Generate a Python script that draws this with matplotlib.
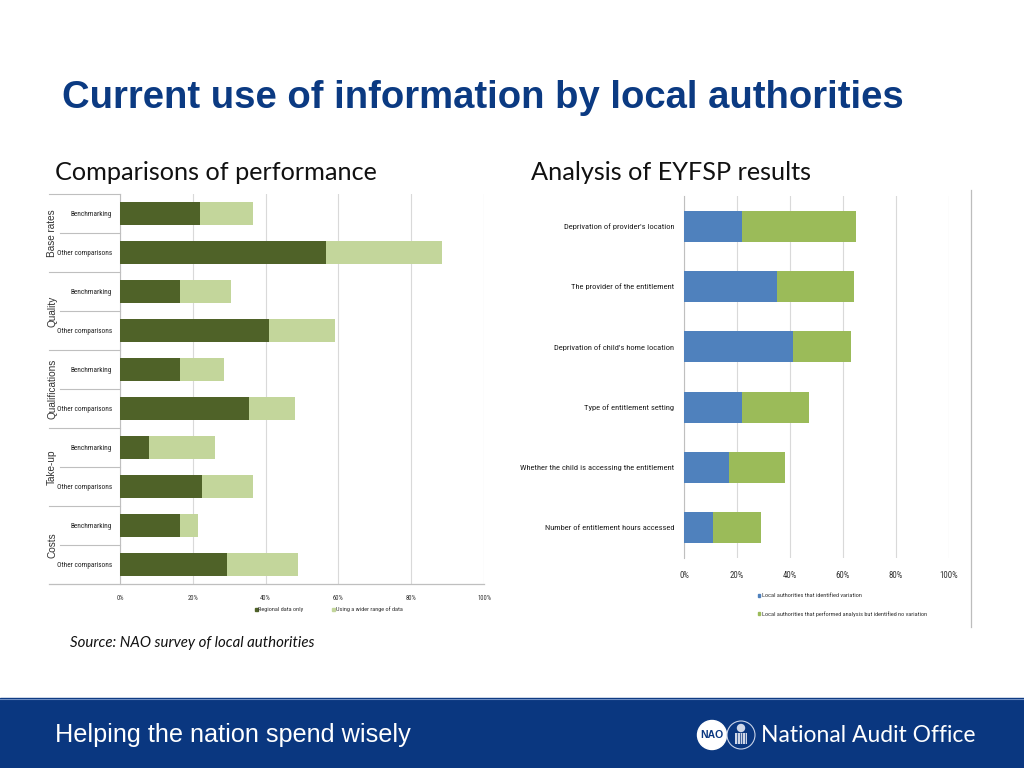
import matplotlib
matplotlib.use("Agg")
import matplotlib.pyplot as plt
from matplotlib import font_manager as fm
from matplotlib.patches import Rectangle, Circle
import numpy as np

# ---------------- data ----------------
left_groups = ["Base rates", "Quality", "Qualifications", "Take-up", "Costs"]
left_categories = ["Benchmarking", "Other comparisons"] * 5
regional_only = [22, 56.5, 16.5, 41, 16.5, 35.5, 8, 22.5, 16.5, 29.5]
wider_range = [14.5, 32, 14, 18, 12, 12.5, 18, 14, 5, 19.5]
left_series = ["Regional data only", "Using a wider range of data"]

right_categories = ["Deprivation of provider's location",
                    "The provider of the entitlement",
                    "Deprivation of child's home location",
                    "Type of entitlement setting",
                    "Whether the child is accessing the entitlement",
                    "Number of entitlement hours accessed"]
identified_variation = [22, 35, 41, 22, 17, 11]
no_variation = [43, 29, 22, 25, 21, 18]
right_series = ["Local authorities that identified variation",
                "Local authorities that performed analysis but identified no variation"]

x_ticks = [0, 20, 40, 60, 80, 100]
x_ticklabels = ["0%", "20%", "40%", "60%", "80%", "100%"]

# ---------------- fonts ----------------
def pick(names):
    for n in names:
        try:
            fm.findfont(fm.FontProperties(family=n), fallback_to_default=False)
            return n
        except Exception:
            pass
    return "DejaVu Sans"

NARROW = pick(["Liberation Sans Narrow", "Roboto Condensed", "Liberation Sans"])
ARIAL = pick(["Liberation Sans", "Arial", "DejaVu Sans"])
CALIBRI = pick(["Lato", "Open Sans", "DejaVu Sans"])

DARK = "#4F6228"
LIGHT = "#C3D69B"
BLUE = "#4F81BD"
GREEN = "#9BBB59"
GRID = "#D9D9D9"
AXIS = "#BFBFBF"
NAVY = "#0B3A82"
BAND = "#0A3780"

W, H = 1024, 768
fig = plt.figure(figsize=(W / 100, H / 100), dpi=100)

# background overlay axes in pixel coordinates
bg = fig.add_axes([0, 0, 1, 1], zorder=0)
bg.set_xlim(0, W)
bg.set_ylim(H, 0)
bg.axis("off")

def px_axes(l, t, r, b, **kw):
    return fig.add_axes([l / W, 1 - b / H, (r - l) / W, (b - t) / H], **kw)

# title & subtitles
bg.text(62, 98, "Current use of information by local authorities", fontsize=27.5,
        fontweight="bold", color=NAVY, family=ARIAL, va="center", ha="left")
bg.text(55, 172, "Comparisons of performance", fontsize=18.2, color="#111111",
        family=CALIBRI, va="center", ha="left")
bg.text(531, 172, "Analysis of EYFSP results", fontsize=18.2, color="#111111",
        family=CALIBRI, va="center", ha="left")
bg.text(70, 643, "Source: NAO survey of local authorities", fontsize=10.8,
        style="italic", color="#111111", family=CALIBRI, va="center", ha="left")

# footer band
bg.add_patch(Rectangle((0, 698), W, 70, color=BAND, zorder=1))
bg.plot([0, W], [698.5, 698.5], color="#6F8FC4", lw=0.8, zorder=2)
bg.text(55, 735, "Helping the nation spend wisely", fontsize=18.2, color="white",
        family=ARIAL, va="center", ha="left", zorder=3)
bg.add_patch(Circle((712, 735), 14.5, color="white", zorder=3))
bg.text(712, 735, "NAO", fontsize=7.5, fontweight="bold", color=BAND, family=ARIAL,
        ha="center", va="center", zorder=4)
bg.add_patch(Circle((741, 735), 14, facecolor=BAND, edgecolor="#C8D3E8", lw=0.8, zorder=3))
bg.add_patch(Rectangle((735, 733), 12, 11, facecolor="#D0D8E8", edgecolor="none", zorder=4))
for xx in np.arange(737, 747, 2.5):
    bg.plot([xx, xx], [733, 744], color=BAND, lw=0.5, zorder=5)
bg.add_patch(Circle((741, 728), 3.5, color="#D0D8E8", zorder=4))
bg.text(761, 735, "National Audit Office", fontsize=16.5, color="white",
        family=CALIBRI, va="center", ha="left", zorder=3)

# right image border line
bg.plot([971, 971], [190, 627], color="#BDBDBD", lw=0.9)

# ---------------- left chart ----------------
axl = px_axes(120, 194, 484, 584, zorder=2)
axl.set_facecolor("none")
yl = np.arange(len(left_categories))
axl.barh(yl, regional_only, height=0.59, color=DARK, zorder=3)
axl.barh(yl, wider_range, left=regional_only, height=0.59, color=LIGHT, zorder=3)
axl.set_xlim(0, 100)
axl.set_ylim(len(left_categories) - 0.5, -0.5)
axl.set_xticks(x_ticks)
axl.set_xticklabels(x_ticklabels, fontsize=4.8, family=NARROW, color="#333333")
axl.set_yticks(yl)
axl.set_yticklabels(left_categories, fontsize=5.2, family=NARROW, color="#222222")
axl.tick_params(axis="both", length=0)
axl.tick_params(axis="x", pad=8)
axl.tick_params(axis="y", pad=6)
for s in ["top", "right", "bottom"]:
    axl.spines[s].set_visible(False)
axl.spines["left"].set_color(AXIS)
axl.spines["left"].set_linewidth(0.8)
axl.xaxis.grid(True, color=GRID, lw=0.8)
axl.set_axisbelow(True)

tr = axl.get_yaxis_transform()
x_outer = (49 - 120) / 364
x_inner = (60 - 120) / 364
for gi in range(len(left_groups)):
    top = 2 * gi - 0.5
    axl.plot([x_outer, 0], [top, top], transform=tr, color=AXIS, lw=0.8, clip_on=False)
    axl.plot([x_inner, 0], [top + 1, top + 1], transform=tr, color=AXIS, lw=0.8, clip_on=False)
    axl.text((52 - 120) / 364, top + 1, left_groups[gi], transform=tr, rotation=90,
             fontsize=7.2, family=ARIAL, color="#333333", ha="center", va="center")
axl.plot([x_outer, 1], [len(left_categories) - 0.5] * 2, transform=tr,
         color=AXIS, lw=0.9, clip_on=False)

# left legend
bg.add_patch(Rectangle((254.5, 607.5), 3, 3.5, color=DARK))
bg.text(258, 609.5, left_series[0], fontsize=4.5, family=NARROW, color="#333333", va="center")
bg.add_patch(Rectangle((331.5, 607.5), 3, 3.5, color=LIGHT))
bg.text(335.5, 609.5, left_series[1], fontsize=4.5, family=NARROW, color="#333333", va="center")

# ---------------- right chart ----------------
axr = px_axes(684, 196, 949, 558, zorder=2)
axr.set_facecolor("none")
yr = np.arange(len(right_categories))
axr.barh(yr, identified_variation, height=0.51, color=BLUE, zorder=3)
axr.barh(yr, no_variation, left=identified_variation, height=0.51, color=GREEN, zorder=3)
axr.set_xlim(0, 100)
axr.set_ylim(len(right_categories) - 0.5, -0.5)
axr.set_xticks(x_ticks)
axr.set_xticklabels(x_ticklabels, fontsize=6.3, family=NARROW, color="#333333")
axr.set_yticks(yr)
axr.set_yticklabels(right_categories, fontsize=6.1, family=NARROW, color="#222222")
axr.tick_params(axis="both", length=0)
axr.tick_params(axis="x", pad=9)
axr.tick_params(axis="y", pad=7)
for s in ["top", "right", "bottom"]:
    axr.spines[s].set_visible(False)
axr.spines["left"].set_color(AXIS)
axr.spines["left"].set_linewidth(0.8)
axr.xaxis.grid(True, color=GRID, lw=0.8)
axr.set_axisbelow(True)

# right legend
bg.add_patch(Rectangle((757.5, 593.5), 2.5, 3, color=BLUE))
bg.text(762.5, 595.5, right_series[0], fontsize=4.5, family=NARROW, color="#333333", va="center")
bg.add_patch(Rectangle((757.5, 612), 2.5, 3, color=GREEN))
bg.text(762.5, 614, right_series[1], fontsize=4.5, family=NARROW, color="#333333", va="center")

fig.savefig("out.png", dpi=100)
